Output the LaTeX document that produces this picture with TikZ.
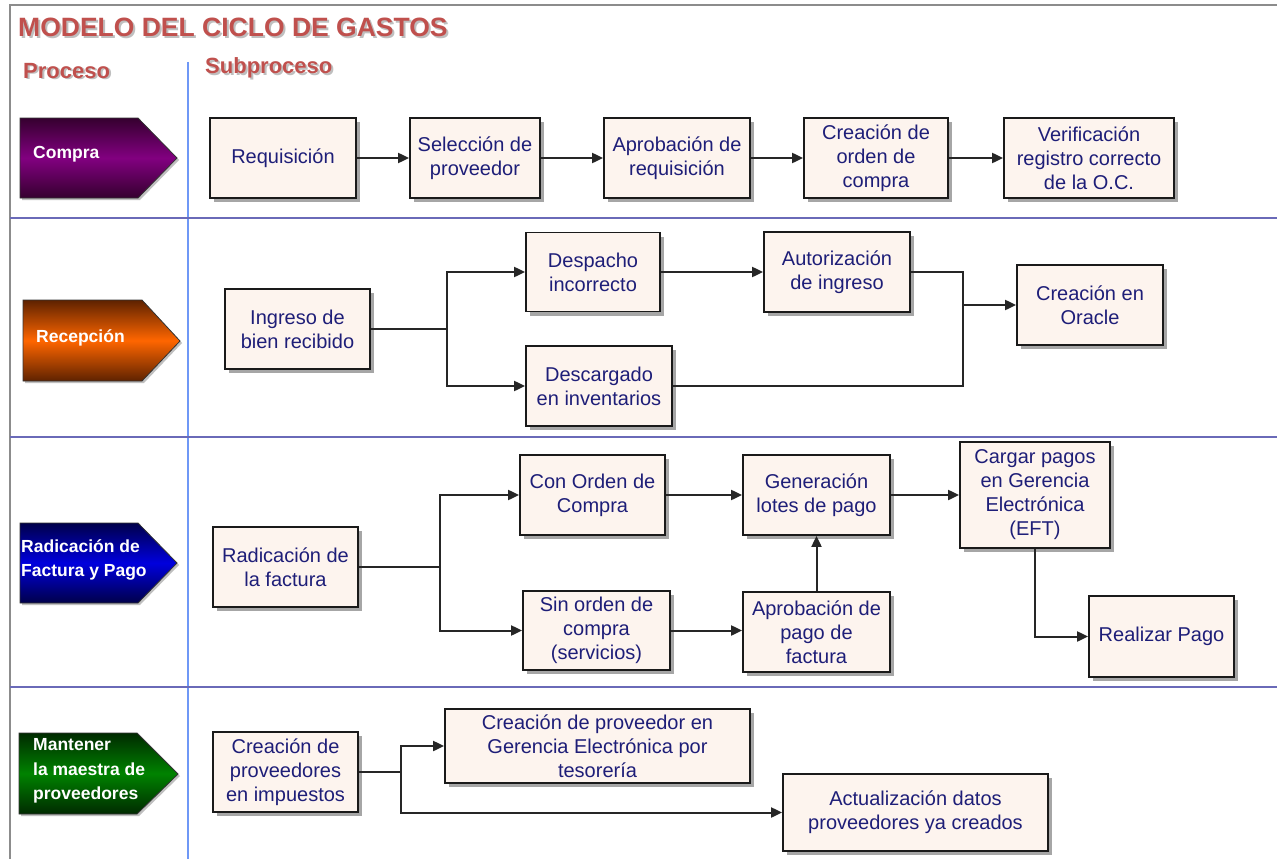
\documentclass[tikz,border=0pt]{standalone}
\usepackage{fontspec}
\setmainfont{Liberation Sans}
\usetikzlibrary{arrows.meta,shadows}
\definecolor{boxfill}{HTML}{FDF4EE}
\definecolor{boxtext}{HTML}{1E1E78}
\definecolor{boxborder}{HTML}{1A1A1A}
\definecolor{titlered}{HTML}{C0504D}
\definecolor{sepblue}{HTML}{6A6AB8}
\definecolor{vblue}{HTML}{6F98F6}
\definecolor{framegray}{HTML}{8C8C8C}
\definecolor{purpD}{HTML}{35002F}
\definecolor{purpM}{HTML}{820080}
\definecolor{oranD}{HTML}{5E2200}
\definecolor{oranM}{HTML}{FF6600}
\definecolor{bluD}{HTML}{00004A}
\definecolor{bluM}{HTML}{0000DD}
\definecolor{grnD}{HTML}{002A00}
\definecolor{grnM}{HTML}{008200}
\tikzset{
  bx/.style={draw=boxborder, line width=1.8pt, fill=boxfill, text=boxtext,
    align=center, inner sep=0pt, font=\fontsize{20}{24}\selectfont,
    drop shadow={shadow xshift=4pt, shadow yshift=-4pt, fill=black!35, opacity=1}},
  conn/.style={draw=black!85, line width=2pt},
  arr/.style={conn, -{Triangle[length=11pt,width=10pt]}},
  ptext/.style={text=white, font=\bfseries\fontsize{17.5}{24.5}\selectfont,
    align=left, anchor=west, inner sep=0pt},
  pent/.style={draw=black!80, line width=0.8pt,
    drop shadow={shadow xshift=2pt, shadow yshift=-2pt, fill=black!25, opacity=1}},
  sepline/.style={draw=sepblue, line width=1.6pt},
  hdr/.style={text=titlered, anchor=base west, inner sep=0pt,
    font=\bfseries\fontsize{22}{26}\selectfont},
  hdrsh/.style={text=black!25, anchor=base west, inner sep=0pt,
    font=\bfseries\fontsize{22}{26}\selectfont},
}
\begin{document}
\begin{tikzpicture}[x=1pt,y=-1pt]
\useasboundingbox[fill=white] (0,0) rectangle (1277,859);
% frame
\draw[framegray, line width=1.2pt] (1277,5) -- (10,5) -- (10,859);
\draw[vblue, line width=1.6pt] (188,62) -- (188,859);
\draw[sepline] (10,218) -- (1277,218);
\draw[sepline] (10,437) -- (1277,437);
\draw[sepline] (10,687) -- (1277,687);
% titles
\node[hdrsh, font=\bfseries\fontsize{26.5}{30}\selectfont] (titlesh) at (20,39) {MODELO DEL CICLO DE GASTOS};
\node[hdr, font=\bfseries\fontsize{26.5}{30}\selectfont] (title) at (18,37) {MODELO DEL CICLO DE GASTOS};
\node[hdrsh] (procsh) at (25,80) {Proceso};
\node[hdr] (proc) at (23,78) {Proceso};
\node[hdrsh] (subpsh) at (207,76) {Subproceso};
\node[hdr] (subp) at (205,74) {Subproceso};
% process pentagons
\shade[pent, top color=purpD, bottom color=purpD, middle color=purpM]
  (20,118) -- (138,118) -- (177,158) -- (138,198) -- (20,198) -- cycle;
\node[ptext] (p1) at (33,154) {Compra};
\shade[pent, top color=oranD, bottom color=oranD, middle color=oranM]
  (23,300) -- (142,300) -- (180,341) -- (142,381) -- (23,381) -- cycle;
\node[ptext] (p2) at (36,338) {Recepción};
\shade[pent, top color=bluD, bottom color=bluD, middle color=bluM]
  (20,523) -- (138,523) -- (177,563) -- (138,603) -- (20,603) -- cycle;
\node[ptext] (p3) at (21,560) {Radicación de\\Factura y Pago};
\shade[pent, top color=grnD, bottom color=grnD, middle color=grnM]
  (19,733) -- (137,733) -- (178,774) -- (137,814) -- (19,814) -- cycle;
\node[ptext] (p4) at (33,771) {Mantener\\la maestra de\\proveedores};
% row 1
\node[bx, minimum width=146pt, minimum height=80pt] (req) at (283,158) {Requisición};
\node[bx, minimum width=130pt, minimum height=80pt] (sel) at (475,158) {Selección de\\proveedor};
\node[bx, minimum width=146pt, minimum height=80pt] (apr) at (677,158) {Aprobación de\\requisición};
\node[bx, minimum width=144pt, minimum height=80pt] (coc) at (876,158) {Creación de\\orden de\\compra};
\node[bx, minimum width=170pt, minimum height=80pt] (ver) at (1089,158) {Verificación\\registro correcto\\de la O.C.};
\draw[arr] (req) -- (sel);
\draw[arr] (sel) -- (apr);
\draw[arr] (apr) -- (coc);
\draw[arr] (coc) -- (ver);
% row 2
\node[bx, minimum width=145pt, minimum height=80pt] (ing) at (297.5,329) {Ingreso de\\bien recibido};
\node[bx, minimum width=134pt, minimum height=79pt] (des) at (593,272) {Despacho\\incorrecto};
\node[bx, minimum width=146pt, minimum height=80pt] (dsc) at (599,386) {Descargado\\en inventarios};
\node[bx, minimum width=146pt, minimum height=80pt] (aut) at (837,272) {Autorización\\de ingreso};
\node[bx, minimum width=146pt, minimum height=80pt] (ora) at (1090,305) {Creación en\\Oracle};
\coordinate (j2) at (447,329);
\coordinate (j3) at (963,305);
\draw[conn, line width=1.5pt] (ing.east) -- (j2);
\draw[arr] (j2) |- (des.west);
\draw[arr] (j2) |- (dsc.west);
\draw[arr] (des) -- (aut);
\draw[conn] (aut.east) -| (j3);
\draw[conn] (dsc.east) -| (j3);
\draw[arr] (j3) -- (ora.west);
% row 3
\node[bx, minimum width=145pt, minimum height=80pt] (rad) at (285.5,567) {Radicación de\\la factura};
\node[bx, minimum width=145pt, minimum height=80pt] (con) at (592.5,495) {Con Orden de\\Compra};
\node[bx, minimum width=147pt, minimum height=79pt] (sin) at (596.5,630.5) {Sin orden de\\compra\\(servicios)};
\node[bx, minimum width=147pt, minimum height=80pt] (gen) at (816.5,495) {Generación\\lotes de pago};
\node[bx, minimum width=147pt, minimum height=80pt] (apg) at (816.5,632) {Aprobación de\\pago de\\factura};
\node[bx, minimum width=150pt, minimum height=106pt] (car) at (1035,495) {Cargar pagos\\en Gerencia\\Electrónica\\(EFT)};
\node[bx, minimum width=145pt, minimum height=81pt] (rea) at (1161.5,636.5) {Realizar Pago};
\coordinate (j4) at (440,567);
\draw[conn, line width=1.5pt] (rad.east) -- (j4);
\draw[arr] (j4) |- (con.west);
\draw[arr] (j4) |- (sin.west);
\draw[arr] (con) -- (gen);
\draw[arr] (sin.east) -- (sin.east -| apg.west);
\draw[arr] (apg.north) -- (gen.south);
\draw[arr] (gen) -- (car);
\draw[arr] (car.south) |- (rea.west);
% row 4
\node[bx, minimum width=145pt, minimum height=80pt] (cpi) at (285.5,772) {Creación de\\proveedores\\en impuestos};
\node[bx, minimum width=305pt, minimum height=74pt] (cpg) at (597.5,746) {Creación de proveedor en\\Gerencia Electrónica por\\tesorería};
\node[bx, minimum width=265pt, minimum height=77pt] (act) at (915.5,812.5) {Actualización datos\\proveedores ya creados};
\coordinate (j5) at (401,772);
\draw[conn, line width=1.5pt] (cpi.east) -- (j5);
\draw[arr] (j5) |- (cpg.west);
\draw[arr] (j5) |- (act.west);
\end{tikzpicture}
\end{document}
